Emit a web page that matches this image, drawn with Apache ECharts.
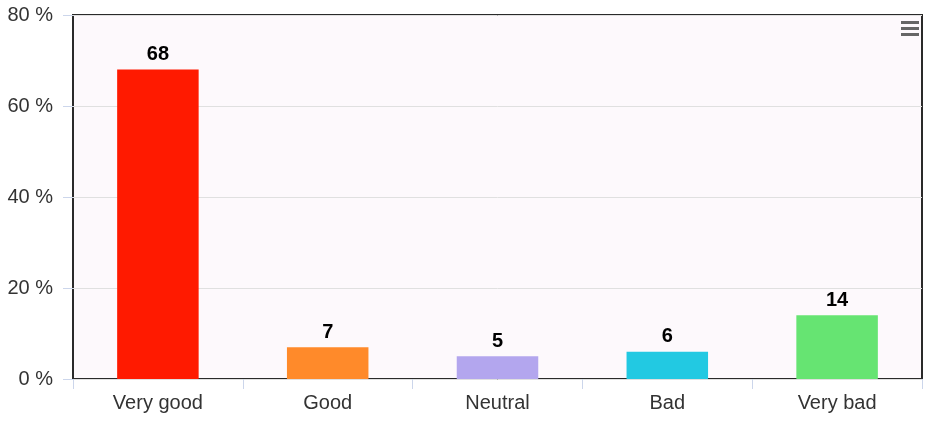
<!DOCTYPE html>
<html>
<head>
<meta charset="utf-8">
<script src="https://cdn.jsdelivr.net/npm/echarts@6/dist/echarts.min.js"></script>
<style>
  html, body { margin: 0; padding: 0; background: #fff; }
  #chart { width: 937px; height: 421px; }
</style>
</head>
<body>
<div id="chart"></div>
<script>
const categories = ['Very good', 'Good', 'Neutral', 'Bad', 'Very bad']
const values = [68, 7, 5, 6, 14]
const barColors = ['#ff1a00', '#ff8a2a', '#b3a6ee', '#22c9e2', '#66e472']
const yTicks = { min: 0, max: 80, interval: 20 }

const chart = echarts.init(document.getElementById('chart'))

const option = {
  animation: false,
  grid: {
    left: 73,
    right: 15,
    top: 15,
    bottom: 42,
    show: true,
    backgroundColor: '#fdf9fc',
    borderColor: '#2a2a2a',
    borderWidth: 2
  },
  xAxis: {
    type: 'category',
    data: categories,
    axisLine: { show: false },
    axisTick: { show: true, length: 10, lineStyle: { color: '#ccd6eb' } },
    axisLabel: {
      color: '#333',
      fontSize: 20,
      fontFamily: 'Arial, "Liberation Sans", sans-serif',
      margin: 14
    }
  },
  yAxis: {
    type: 'value',
    min: yTicks.min,
    max: yTicks.max,
    interval: yTicks.interval,
    axisLine: { show: false },
    axisTick: { show: true, length: 10, lineStyle: { color: '#ccd6eb' } },
    axisLabel: {
      formatter: '{value} %',
      color: '#333',
      fontSize: 20,
      fontFamily: 'Arial, "Liberation Sans", sans-serif',
      margin: 20
    },
    splitLine: { lineStyle: { color: '#e0e0e0' } }
  },
  series: [
    {
      type: 'bar',
      barWidth: '48%',
      data: values.map((v, i) => ({ value: v, itemStyle: { color: barColors[i] } })),
      label: {
        show: true,
        position: 'top',
        distance: 5,
        color: '#000',
        fontSize: 20,
        fontWeight: 'bold',
        fontFamily: 'Arial, "Liberation Sans", sans-serif'
      }
    }
  ],
  graphic: [
    { type: 'rect', shape: { x: 901, y: 21, width: 18, height: 3 }, style: { fill: '#666' } },
    { type: 'rect', shape: { x: 901, y: 27, width: 18, height: 3 }, style: { fill: '#666' } },
    { type: 'rect', shape: { x: 901, y: 33, width: 18, height: 3 }, style: { fill: '#666' } }
  ]
}

chart.setOption(option)
</script>
</body>
</html>
